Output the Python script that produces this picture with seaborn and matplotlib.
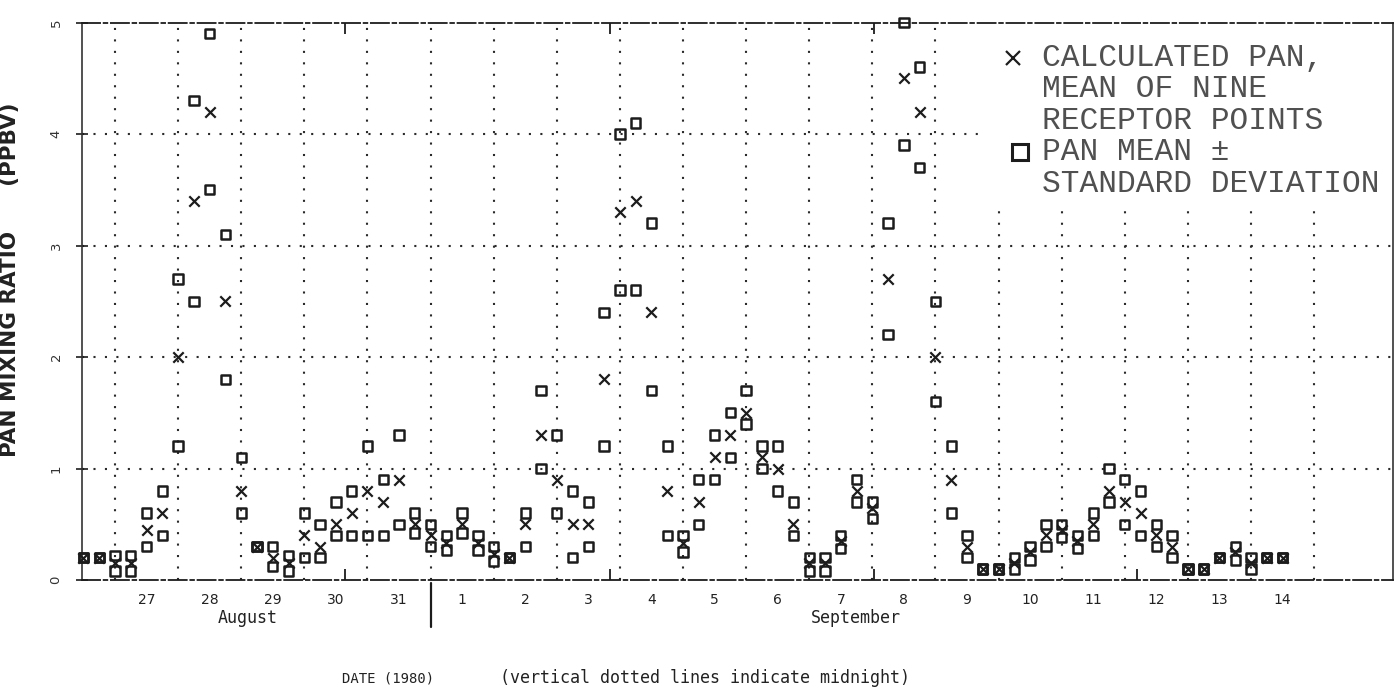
import numpy as np
import pandas as pd
import matplotlib
matplotlib.use("Agg")
import matplotlib.pyplot as plt
import matplotlib.transforms as mtransforms
from matplotlib.patches import Rectangle
import seaborn as sns

# ---------------- data ----------------
start_time = "1980-08-26 12:00"      # first observation, 6-hourly afterwards
n_obs = 77

calc_pan = [0.2, 0.2, 0.15, 0.15, 0.45, 0.6, 2.0, 3.4, 4.2, 2.5,
            0.8, 0.3, 0.2, 0.15, 0.4, 0.3, 0.5, 0.6, 0.8, 0.7,
            0.9, 0.5, 0.4, 0.33, 0.5, 0.33, 0.23, 0.2, 0.5, 1.3,
            0.9, 0.5, 0.5, 1.8, 3.3, 3.4, 2.4, 0.8, 0.33, 0.7,
            1.1, 1.3, 1.5, 1.1, 1.0, 0.5, 0.15, 0.15, 0.35, 0.8,
            0.65, 2.7, 4.5, 4.2, 2.0, 0.9, 0.3, 0.1, 0.1, 0.15,
            0.25, 0.4, 0.45, 0.35, 0.5, 0.8, 0.7, 0.6, 0.4, 0.3,
            0.1, 0.1, 0.2, 0.25, 0.15, 0.2, 0.2]

pan_upper = [0.2, 0.2, 0.22, 0.22, 0.6, 0.8, 2.7, 4.3, 4.9, 3.1,
             1.1, 0.3, 0.3, 0.22, 0.6, 0.5, 0.7, 0.8, 1.2, 0.9,
             1.3, 0.6, 0.5, 0.4, 0.6, 0.4, 0.3, 0.2, 0.6, 1.7,
             1.3, 0.8, 0.7, 2.4, 4.0, 4.1, 3.2, 1.2, 0.4, 0.9,
             1.3, 1.5, 1.7, 1.2, 1.2, 0.7, 0.2, 0.2, 0.4, 0.9,
             0.7, 3.2, 5.0, 4.6, 2.5, 1.2, 0.4, 0.1, 0.1, 0.2,
             0.3, 0.5, 0.5, 0.4, 0.6, 1.0, 0.9, 0.8, 0.5, 0.4,
             0.1, 0.1, 0.2, 0.3, 0.2, 0.2, 0.2]

pan_lower = [0.2, 0.2, 0.08, 0.08, 0.3, 0.4, 1.2, 2.5, 3.5, 1.8,
             0.6, 0.3, 0.12, 0.08, 0.2, 0.2, 0.4, 0.4, 0.4, 0.4,
             0.5, 0.42, 0.3, 0.27, 0.42, 0.27, 0.17, 0.2, 0.3, 1.0,
             0.6, 0.2, 0.3, 1.2, 2.6, 2.6, 1.7, 0.4, 0.25, 0.5,
             0.9, 1.1, 1.4, 1.0, 0.8, 0.4, 0.08, 0.08, 0.28, 0.7,
             0.55, 2.2, 3.9, 3.7, 1.6, 0.6, 0.2, 0.1, 0.1, 0.1,
             0.18, 0.3, 0.38, 0.28, 0.4, 0.7, 0.5, 0.4, 0.3, 0.2,
             0.1, 0.1, 0.2, 0.18, 0.1, 0.2, 0.2]

day_labels = ["27", "28", "29", "30", "31", "1", "2", "3", "4", "5", "6",
              "7", "8", "9", "10", "11", "12", "13", "14"]
month_labels = ["August", "September"]
y_tick_labels = ["0", "1", "2", "3", "4", "5"]
legend_calc = ["CALCULATED PAN,", "MEAN OF NINE", "RECEPTOR POINTS"]
legend_mean = ["PAN MEAN \u00b1", "STANDARD DEVIATION"]

# ---------------- prep ----------------
sns.set_theme(style="white")
plt.rcParams["font.family"] = ["DejaVu Sans"]

times = pd.date_range(start_time, periods=n_obs, freq="6h")
origin = pd.Timestamp("1980-08-26 00:00")
day_pos = np.asarray((times - origin) / pd.Timedelta(days=1))

sq = pd.DataFrame({"day": np.concatenate([day_pos, day_pos]),
                   "ppbv": np.concatenate([pan_upper, pan_lower])})
cx = pd.DataFrame({"day": day_pos, "ppbv": calc_pan})

ink = "#1c1c1c"
mono = ["DejaVu Sans Mono"]

fig = plt.figure(figsize=(13.94, 6.94), dpi=100)
fig.patch.set_facecolor("white")
ax = fig.add_axes([82 / 1394, 1 - 580 / 694, (1393 - 82) / 1394, (580 - 22.5) / 694])
ax.set_facecolor("white")

# grid: midnights and integer ppbv
midnights = np.arange(1, 21)
for m in midnights:
    ax.axvline(m, color="#2a2a2a", lw=1.5, ls=(0, (1, 4.5)), zorder=0.5)
for yv in [1, 2, 3, 4]:
    ax.axhline(yv, color="#2a2a2a", lw=1.5, ls=(0, (1, 4.5)), zorder=0.5)

# white legend area (covers grid)
ax.add_patch(Rectangle((0.685, 0.672), 0.315, 0.328, transform=ax.transAxes,
                       facecolor="white", edgecolor="none", zorder=1))

# data
sns.scatterplot(data=sq, x="day", y="ppbv", marker="s", s=46, color=ink,
                facecolor="none", edgecolor=ink, linewidth=1.8, ax=ax,
                zorder=3, clip_on=False, legend=False)
sns.scatterplot(data=cx, x="day", y="ppbv", marker="x", s=56, color=ink,
                edgecolor=None, linewidth=1.6, ax=ax, zorder=3, clip_on=False,
                legend=False)

ax.set_xlim(0.477, 21.25)
ax.set_ylim(0, 5)

# ticks
ax.set_xticks(np.arange(1.5, 20.5, 1.0))
ax.set_xticklabels(day_labels, fontsize=10, color="#222222")
ax.set_xticks([4.65, 8.85, 13.02, 17.2], minor=True)
ax.tick_params(axis="x", which="major", length=0, pad=9)
ax.tick_params(axis="x", which="minor", direction="in", length=8, width=1.3,
               color=ink, top=True, bottom=True)
ax.set_yticks(range(6))
ax.set_yticklabels(y_tick_labels, rotation=90, va="center", fontsize=9.5,
                   color="#333333")
ax.tick_params(axis="y", which="major", direction="inout", length=8,
               width=1.2, color=ink, left=True, pad=10)

ax.set_xlabel("")
ax.set_ylabel("PAN MIXING RATIO      (PPBV)", fontsize=15.5, fontweight="bold",
              color="#222222")
ax.yaxis.set_label_coords(-0.047, 0.538)

# spines
for side in ["top", "bottom"]:
    ax.spines[side].set_visible(True)
    ax.spines[side].set_color(ink)
    ax.spines[side].set_linewidth(1.3)
    ax.spines[side].set_linestyle((0, (10, 2, 2, 2)))
for side in ["left", "right"]:
    ax.spines[side].set_visible(True)
    ax.spines[side].set_color("#333333")
    ax.spines[side].set_linewidth(1.2)

# month names and separator
trans = mtransforms.blended_transform_factory(ax.transData, ax.transAxes)
ax.text(3.1, -0.068, month_labels[0], transform=trans, ha="center",
        va="center", fontsize=12, family=mono, color="#222222")
ax.text(12.74, -0.068, month_labels[1], transform=trans, ha="center",
        va="center", fontsize=12, family=mono, color="#222222")
ax.plot([6.0, 6.0], [-0.005, -0.085], transform=trans, color=ink, lw=1.6,
        clip_on=False)

# legend (drawn by hand)
leg_font = ["Liberation Mono", "DejaVu Sans Mono"]
line_y = [0.937, 0.880, 0.824, 0.767, 0.711]
for i, t in enumerate(legend_calc + legend_mean):
    ax.text(0.732, line_y[i], t, transform=ax.transAxes, ha="left",
            va="center", fontsize=22.5, family=leg_font, color="#505050",
            zorder=4)
ax.plot([0.7105], [line_y[0]], marker="x", ms=10, mew=1.6, color=ink,
        transform=ax.transAxes, zorder=4, clip_on=False)
ax.plot([0.7155], [line_y[3]], marker="s", ms=11, mew=2.2, mfc="none",
        color=ink, transform=ax.transAxes, zorder=4, clip_on=False)

# bottom captions
fig.text(388 / 1394, 1 - 678 / 694, "DATE (1980)", ha="center", va="center",
         fontsize=10, family=mono, color="#222222")
fig.text(500 / 1394, 1 - 678 / 694, "(vertical dotted lines indicate midnight)",
         ha="left", va="center", fontsize=12, family=mono, color="#222222")

fig.savefig("out.png", dpi=100, facecolor="white")
